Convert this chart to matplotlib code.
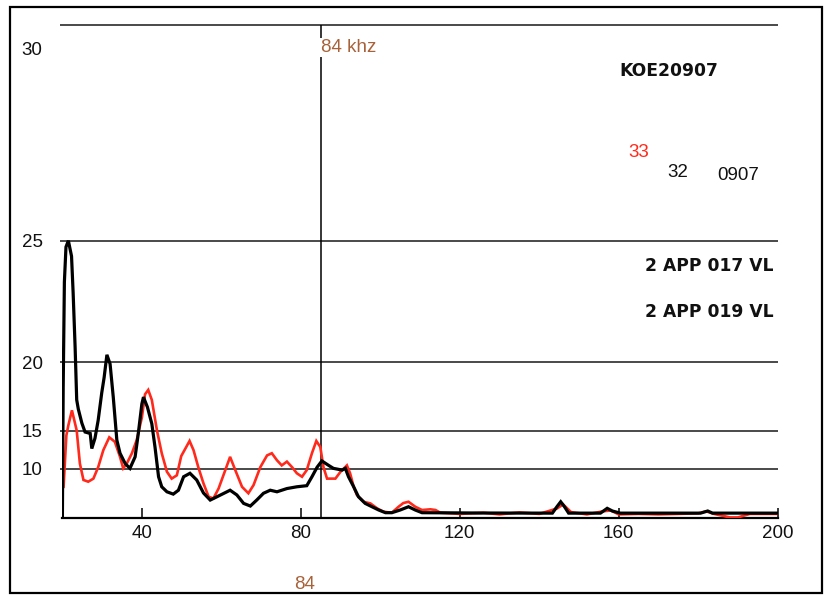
import numpy as np
import matplotlib
matplotlib.use("Agg")
import matplotlib.pyplot as plt
from matplotlib.patches import Rectangle
from matplotlib.transforms import ScaledTranslation, blended_transform_factory

# ---- data (frequency in kHz, level in dB) ----
black_freq = [20.0, 20.2, 20.5, 20.9, 21.5, 22.3, 22.7, 23.2, 23.6, 24.0, 24.9, 25.7, 27.0, 27.4,
              28.2, 29.0, 29.9, 30.5, 31.2, 32.0, 32.8, 33.7, 34.5, 35.8, 37.0, 38.3, 39.1, 40.0,
              40.4, 41.4, 42.5, 43.3, 44.2, 45.0, 46.3, 47.9, 49.2, 50.5, 52.1, 53.8, 55.5, 57.2,
              58.9, 62.2, 63.9, 65.6, 67.3, 68.9, 70.6, 72.3, 74.0, 76.5, 79.0, 81.5, 82.8, 84.1,
              85.3, 87.0, 88.2, 90.4, 91.2, 92.0, 93.3, 94.5, 96.2, 97.9, 99.6, 101.3, 102.9,
              105.0, 107.1, 108.8, 110.5, 125.0, 143.3, 144.4, 145.4, 146.4, 147.4, 155.4, 157.1,
              158.4, 160.4, 180.6, 182.4, 183.6, 200.0]
black_db = [-30, 18.5, 23.6, 24.8, 25.0, 24.5, 23.2, 20.8, 17.6, 16.9, 15.7, 14.85, 14.7, 13.0,
            14.2, 15.95, 18.1, 19.1, 20.4, 19.9, 17.8, 14.0, 12.4, 10.9, 10.1, 11.9, 14.7, 17.3,
            17.8, 17.05, 15.65, 13.2, 8.5, 6.1, 4.6, 3.8, 5.1, 8.5, 9.2, 7.8, 4.2, 1.35,
            2.8, 5.1, 3.5, -0.4, -2.1, 1.35, 4.1, 5.1, 4.6, 5.6, 6.1, 6.4, 8.5, 10.3,
            11.3, 10.6, 10.1, 9.8, 10.1, 8.5, 6.1, 2.8, -0.4, -2.6, -5.5, -8.9, -8.9,
            -5.5, -2.6, -5.5, -8.9, -9.4, -9.6, -2.8, 0.5, -2.8, -9.6, -9.6, -3.9,
            -6.6, -9.6, -9.6, -6.6, -9.6, -9.6]

red_freq = [20.3, 21.0, 21.5, 22.4, 23.6, 24.4, 25.3, 26.5, 27.8, 29.0, 30.3, 31.8, 33.2, 34.5,
            35.3, 36.2, 37.5, 38.7, 40.0, 40.8, 41.6, 42.5, 43.8, 45.0, 46.3, 47.5, 48.8, 49.9,
            52.0, 53.0, 54.2, 55.5, 56.8, 58.0, 59.3, 61.0, 62.2, 63.5, 65.2, 66.8, 68.1, 69.8,
            71.5, 72.7, 74.0, 75.2, 76.5, 77.8, 79.0, 80.3, 81.5, 82.8, 83.9, 84.9, 85.7, 86.6,
            88.7, 90.0, 91.6, 92.4, 93.3, 94.1, 95.8, 97.5, 99.2, 100.8, 102.9, 104.6, 105.8,
            107.1, 108.8, 110.5, 112.6, 113.9, 115.1, 120, 126, 130, 135, 140, 144.5, 146, 148,
            152, 156, 158, 160, 165, 170, 175, 180, 182, 184, 188, 190, 193, 198, 200]
red_db = [6.1, 14.5, 15.5, 16.8, 15.0, 10.9, 7.8, 7.4, 8.1, 10.3, 12.8, 14.3, 13.8, 11.9,
          10.1, 10.9, 12.4, 14.0, 16.2, 18.0, 18.3, 17.6, 15.0, 12.4, 9.5, 8.1, 8.8, 12.0,
          13.9, 12.8, 10.3, 7.0, 2.8, 2.1, 5.6, 9.8, 11.9, 9.8, 6.1, 4.1, 6.55, 10.3,
          12.1, 12.4, 11.4, 10.6, 11.2, 10.3, 9.2, 8.5, 9.8, 12.4, 13.9, 13.2, 10.3, 8.1,
          8.1, 9.5, 10.6, 9.2, 6.1, 3.5, 0.5, -0.4, -3.9, -7.5, -8.9, -2.6, -0.2,
          0.5, -2.6, -5.5, -4.8, -5.5, -8.9, -11, -9, -12, -8.5, -11, -4, -1, -8,
          -12, -7, -6, -12, -11, -12, -11, -10, -7, -11, -25, -25, -11, -11, -11]

x_ticks = [40, 80, 120, 160, 200]
y_ticks = [10, 15, 20, 25, 30]
marker_freq = 85.2
marker_label = "84 khz"
marker_bottom_label = "84"
title_label = "KOE20907"
legend_labels = ["33", "32", "0907"]
series_labels = ["2 APP 017 VL", "2 APP 019 VL"]

# ---- figure ----
plt.rcParams['font.family'] = ['Liberation Sans', 'DejaVu Sans']
fig = plt.figure(figsize=(8.27, 5.95), dpi=100)
ax = fig.add_axes([0.07545, 0.1289, 0.8649, 0.83464])

def fwd(y):
    return np.power(10.0, np.asarray(y, dtype=float) / 20.0)

def inv(a):
    a = np.clip(np.asarray(a, dtype=float), 1e-12, None)
    return 20.0 * np.log10(a)

ax.set_yscale('function', functions=(fwd, inv))

red_c = '#ff2a1c'
ax.plot(red_freq, red_db, color=red_c, lw=1.9, zorder=3, solid_joinstyle='miter')
ax.plot(black_freq, black_db, color='black', lw=2.3, zorder=4, solid_joinstyle='miter')

ax.vlines(marker_freq, -240, 30, color='black', lw=1.1, zorder=2)

ax.set_xlim(20, 200)
ax.set_ylim(-240, 30.05)
ax.set_xticks(x_ticks)
ax.set_yticks(y_ticks)
ax.set_yticklabels([str(v) for v in y_ticks])
ax.minorticks_off()
ax.yaxis.set_minor_locator(matplotlib.ticker.NullLocator())

ax.grid(axis='y', color='#2a2a2a', lw=1.2, zorder=1)
ax.grid(axis='x', visible=False)

for s in ['left', 'right', 'top']:
    ax.spines[s].set_visible(False)
ax.spines['bottom'].set_linewidth(1.6)
ax.spines['bottom'].set_color('black')

ax.tick_params(axis='x', direction='in', length=7.2, width=1.1, pad=5,
               labelsize=13.5, colors='black', labelcolor='#111111')
ax.tick_params(axis='y', direction='out', length=1.5, width=1.2, pad=12.8,
               labelsize=13.5, color='#2a2a2a', labelcolor='#111111')

# shift the top label "30" down as in the reference
for lab, v in zip(ax.get_yticklabels(), y_ticks):
    if v == 30:
        lab.set_transform(lab.get_transform() + ScaledTranslation(0, -0.235, fig.dpi_scale_trans))

brown = '#a8623a'
bt = blended_transform_factory(ax.transData, ax.transAxes)
ax.text(marker_freq, 0.939, marker_label, transform=bt, ha='left', va='baseline',
        fontsize=13.5, color=brown, zorder=5,
        bbox=dict(facecolor='white', edgecolor='none', pad=1.0))
ax.text(0.3392, -0.1424, marker_bottom_label, transform=ax.transAxes, ha='center',
        va='baseline', fontsize=13.5, color=brown, clip_on=False)

ax.text(0.7781, 0.8907, title_label, transform=ax.transAxes, ha='left', va='baseline',
        fontsize=12.3, fontweight='bold', family=['DejaVu Sans'], color='#111111')
ax.text(0.7907, 0.7276, legend_labels[0], transform=ax.transAxes, ha='left', va='baseline',
        fontsize=13.5, color=red_c)
ax.text(0.8452, 0.6877, legend_labels[1], transform=ax.transAxes, ha='left', va='baseline',
        fontsize=13.5, color='#111111')
ax.text(0.9151, 0.6812, legend_labels[2], transform=ax.transAxes, ha='left', va='baseline',
        fontsize=13.5, color='#111111')
ax.text(0.9948, 0.4980, series_labels[0], transform=ax.transAxes, ha='right', va='baseline',
        fontsize=12.3, fontweight='bold', family=['DejaVu Sans'], color='#111111')
ax.text(0.9948, 0.4053, series_labels[1], transform=ax.transAxes, ha='right', va='baseline',
        fontsize=12.3, fontweight='bold', family=['DejaVu Sans'], color='#111111')

# outer frame
fig.patches.append(Rectangle((0.0115, 0.0027), 0.9825, 0.9855, transform=fig.transFigure,
                             fill=False, edgecolor='black', lw=1.6))

fig.savefig('out.png', dpi=100)
